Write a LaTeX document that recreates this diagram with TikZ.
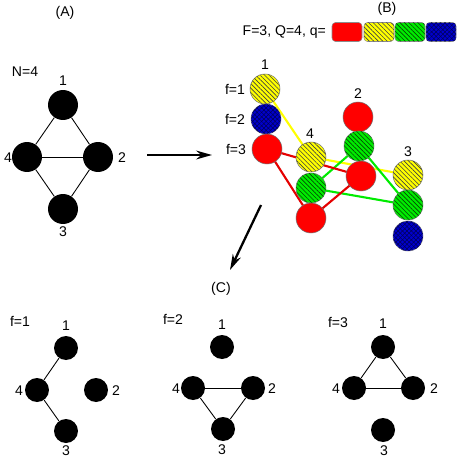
\documentclass[tikz,border=0pt]{standalone}
\usepackage{fontspec}
\setmainfont{Liberation Sans}
\usetikzlibrary{positioning,arrows.meta,patterns.meta,backgrounds}
\definecolor{traitred}{RGB}{255,0,0}
\definecolor{traityellow}{RGB}{255,255,0}
\definecolor{traitgreen}{RGB}{0,235,0}
\definecolor{traitblue}{RGB}{0,0,205}
\tikzset{
    tag/.style={font=\fontsize{8}{9.6}\selectfont, inner sep=1pt},
    vertex/.style={circle, fill=black, minimum size=0.6cm, inner sep=0pt},
    small vertex/.style={vertex, minimum size=0.48cm},
    trait/.style={circle, draw=black!55, line width=0.3pt, minimum size=0.6cm, inner sep=0pt},
    qbox/.style={rectangle, rounded corners=2pt, draw=black!45, line width=0.3pt, minimum width=0.6cm, minimum height=0.38cm, inner sep=0pt},
    red fill/.style={fill=traitred},
    yellow fill/.style={fill=traityellow, postaction={pattern={Lines[angle=-45,distance=1.8pt,line width=0.35pt]}, pattern color=black!75}},
    green fill/.style={fill=traitgreen, postaction={pattern={Lines[angle=-45,distance=1.8pt,line width=0.35pt]}, pattern color=green!30!black}},
    blue fill/.style={fill=traitblue, postaction={pattern={Lines[angle=45,distance=1.8pt,line width=0.3pt]}, pattern color=blue!35!black}, postaction={pattern={Lines[angle=-45,distance=1.8pt,line width=0.3pt]}, pattern color=blue!35!black}},
    edge/.style={black, line width=0.5pt},
    red link/.style={traitred!90!black, line width=1.2pt},
    yellow link/.style={traityellow, line width=1.2pt},
    green link/.style={traitgreen, line width=1.2pt},
    big arrow/.style={-{Stealth[length=9pt,width=5pt]}, line width=1.3pt}
}

\begin{document}
\begin{tikzpicture}[x=0.02cm, y=-0.02cm]
    \useasboundingbox (0,0) rectangle (457,459);

    % (A) the full graph
    \node[tag] (titleA) at (65,13) {(A)};
    \node[tag] (sizeN) at (25,72) {N=4};
    \node[vertex] (a1) at (63,105) {};
    \node[vertex] (a2) at (98,157) {};
    \node[vertex] (a3) at (63,209) {};
    \node[vertex] (a4) at (27,157) {};
    \node[tag] (la1) at (63,81) {1};
    \node[tag] (la2) at (122,158) {2};
    \node[tag] (la3) at (63,232) {3};
    \node[tag] (la4) at (8,158) {4};
    \draw[edge] (a1) -- (a2);
    \draw[edge] (a1) -- (a4);
    \draw[edge] (a4) -- (a2);
    \draw[edge] (a4) -- (a3);
    \draw[edge] (a2) -- (a3);

    % arrow A -> B
    \coordinate (ab start) at (147,155);
    \coordinate (ab end) at (212,155);
    \draw[big arrow] (ab start) -- (ab end);

    % (B) traits of each vertex
    \node[tag] (titleB) at (387,9) {(B)};
    \node[tag, anchor=east] (params) at (328,32) {F=3, Q=4, q=};
    \node[qbox, red fill] (q1) at (347,32) {};
    \node[qbox, yellow fill] (q2) at (379,32) {};
    \node[qbox, green fill] (q3) at (410,32) {};
    \node[qbox, blue fill] (q4) at (441,32) {};

    \node[tag] (lf1) at (235,89) {f=1};
    \node[tag] (lf2) at (235,119) {f=2};
    \node[tag] (lf3) at (236,149) {f=3};

    \node[trait, yellow fill] (b1f1) at (265,89) {};
    \node[trait, blue fill] (b1f2) at (266,119) {};
    \node[trait, red fill] (b1f3) at (267,149) {};
    \node[trait, yellow fill] (b4f1) at (311,157) {};
    \node[trait, green fill] (b4f2) at (311,188) {};
    \node[trait, red fill] (b4f3) at (311,218) {};
    \node[trait, red fill] (b2f1) at (358,117) {};
    \node[trait, green fill] (b2f2) at (359,146) {};
    \node[trait, red fill] (b2f3) at (361,176) {};
    \node[trait, yellow fill] (b3f1) at (408,175) {};
    \node[trait, green fill] (b3f2) at (408,205) {};
    \node[trait, blue fill] (b3f3) at (408,236) {};
    \node[tag] (lb1) at (265,65) {1};
    \node[tag] (lb2) at (358,94) {2};
    \node[tag] (lb3) at (408,152) {3};
    \node[tag] (lb4) at (310,134) {4};

    \begin{scope}[on background layer]
        \draw[yellow link] (b1f1.center) -- (b4f1.center) -- (b3f1.center);
        \draw[green link] (b4f2.center) -- (b2f2.center) -- (b3f2.center) -- (b4f2.center);
        \draw[red link] (b1f3.center) -- (b4f3.center) -- (b2f3.center) -- (b1f3.center);
    \end{scope}

    % arrow B -> C
    \coordinate (bc start) at (261,205);
    \coordinate (bc end) at (230,270);
    \draw[big arrow] (bc start) -- (bc end);

    % (C) one graph per feature
    \node[tag] (titleC) at (221,289) {(C)};

    % f=1
    \node[tag] (lc1) at (20,321) {f=1};
    \node[small vertex] (c11) at (66,348) {};
    \node[small vertex] (c12) at (96,390) {};
    \node[small vertex] (c13) at (66,431) {};
    \node[small vertex] (c14) at (37,390) {};
    \node[tag] (lc11) at (66,326) {1};
    \node[tag] (lc12) at (116,391) {2};
    \node[tag] (lc13) at (66,451) {3};
    \node[tag] (lc14) at (19,391) {4};
    \draw[edge] (c11) -- (c14);
    \draw[edge] (c14) -- (c13);

    % f=2
    \node[tag] (lc2) at (173,319) {f=2};
    \node[small vertex] (c21) at (222,347) {};
    \node[small vertex] (c22) at (253,388) {};
    \node[small vertex] (c23) at (223,429) {};
    \node[small vertex] (c24) at (193,388) {};
    \node[tag] (lc21) at (222,325) {1};
    \node[tag] (lc22) at (272,389) {2};
    \node[tag] (lc23) at (222,450) {3};
    \node[tag] (lc24) at (176,389) {4};
    \draw[edge] (c24) -- (c22);
    \draw[edge] (c24) -- (c23);
    \draw[edge] (c22) -- (c23);

    % f=3
    \node[tag] (lc3) at (338,322) {f=3};
    \node[small vertex] (c31) at (383,347) {};
    \node[small vertex] (c32) at (413,388) {};
    \node[small vertex] (c33) at (383,430) {};
    \node[small vertex] (c34) at (354,388) {};
    \node[tag] (lc31) at (383,324) {1};
    \node[tag] (lc32) at (434,389) {2};
    \node[tag] (lc33) at (384,451) {3};
    \node[tag] (lc34) at (336,389) {4};
    \draw[edge] (c31) -- (c34);
    \draw[edge] (c31) -- (c32);
    \draw[edge] (c34) -- (c32);
\end{tikzpicture}
\end{document}
